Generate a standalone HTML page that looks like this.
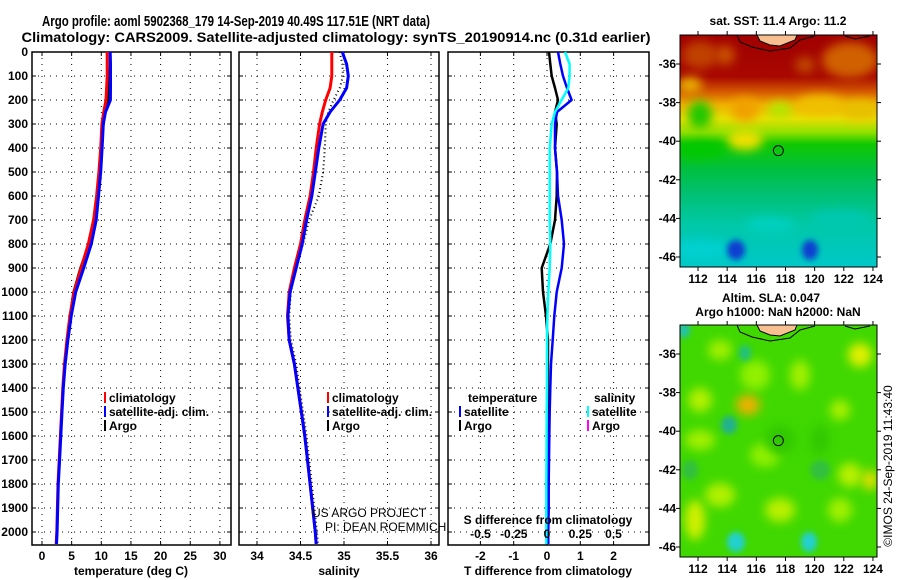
<!DOCTYPE html>
<html><head><meta charset="utf-8"><style>
body{margin:0;background:#fff;width:900px;height:580px;overflow:hidden}
svg{display:block;font-family:"Liberation Sans",Arial,sans-serif}
.b{font-weight:bold;font-size:12px}
</style></head><body>
<svg id="root" width="900" height="580" viewBox="0 0 900 580">
<defs>
<linearGradient id="sstg" x1="0" y1="0" x2="0" y2="1">
<stop offset="0" stop-color="#a00000"/><stop offset="0.18" stop-color="#a80800"/>
<stop offset="0.25" stop-color="#d86000"/><stop offset="0.3" stop-color="#f0b000"/>
<stop offset="0.36" stop-color="#e8e000"/><stop offset="0.42" stop-color="#90e000"/><stop offset="0.47" stop-color="#10c800"/>
<stop offset="0.58" stop-color="#00c040"/><stop offset="0.68" stop-color="#00c070"/>
<stop offset="0.82" stop-color="#00c8a8"/><stop offset="1" stop-color="#00c8c8"/>
</linearGradient>
<filter id="bl" x="-50%" y="-50%" width="200%" height="200%"><feGaussianBlur stdDeviation="5"/></filter>
<filter id="bl2" x="-50%" y="-50%" width="200%" height="200%"><feGaussianBlur stdDeviation="3"/></filter>
<clipPath id="c1"><rect x="680" y="35" width="197" height="232"/></clipPath>
<clipPath id="c2"><rect x="680" y="325" width="197" height="232"/></clipPath>
</defs>
<text x="236" y="26" font-weight="bold" style="font-size:15px" text-anchor="middle" textLength="388" lengthAdjust="spacingAndGlyphs">Argo profile: aoml 5902368_179 14-Sep-2019 40.49S 117.51E (NRT data)</text>
<text x="336" y="42" font-weight="bold" style="font-size:14px" text-anchor="middle" textLength="629" lengthAdjust="spacingAndGlyphs">Climatology: CARS2009. Satellite-adjusted climatology: synTS_20190914.nc (0.31d earlier)</text>
<g id="plots"></g>
<g id="maps"></g>
</svg>
<script>
const depths=[0,50,100,150,200,250,300,400,500,600,700,800,900,1000,1100,1200,1300,1400,1500,1600,1700,1800,1900,2000,2050];
const tempClim=[11.0,11.0,11.0,10.9,10.8,10.4,10.1,9.9,9.6,9.2,8.7,7.8,6.6,5.4,4.7,4.2,3.8,3.5,3.3,3.1,2.9,2.7,2.6,2.5,2.4];
const tempSat=[11.5,11.55,11.55,11.55,11.54,10.7,10.34,10.14,9.9,9.53,9.14,8.31,7.04,5.69,4.92,4.37,3.92,3.6,3.38,3.17,2.96,2.75,2.65,2.54,2.44];
const tempArgo=[11.06,11.1,11.14,11.14,11.13,10.64,10.39,10.14,9.9,9.49,8.94,7.9,6.44,5.28,4.67,4.23,3.83,3.53,3.33,3.13,2.93,2.73,2.63,2.53,2.43];
const salClim=[34.86,34.86,34.86,34.84,34.79,34.75,34.72,34.68,34.65,34.61,34.55,34.5,34.43,34.37,34.35,34.37,34.43,34.47,34.51,34.55,34.58,34.61,34.64,34.67,34.68];
const salSat=[34.98,35.03,35.05,35.03,34.95,34.84,34.76,34.71,34.67,34.63,34.57,34.52,34.45,34.38,34.355,34.37,34.43,34.47,34.51,34.55,34.58,34.61,34.64,34.67,34.68];
const salArgo=[34.95,34.98,34.99,34.95,34.88,34.82,34.79,34.78,34.76,34.71,34.6,34.53,34.45,34.39,34.37,34.39,34.45,34.49,34.53,34.57,34.6,34.63,34.66,34.69,34.7];
const tDiffArgo=[0.06,0.1,0.14,0.24,0.33,0.24,0.29,0.24,0.3,0.29,0.24,0.1,-0.16,-0.12,-0.03,0.03,0.03,0.03,0.03,0.03,0.03,0.03,0.03,0.03,0.03];
const tDiffSat=[0.33,0.4,0.48,0.6,0.74,0.3,0.24,0.24,0.3,0.33,0.44,0.51,0.44,0.29,0.22,0.17,0.12,0.1,0.08,0.07,0.06,0.05,0.05,0.04,0.04];
const sDiffSat=[0.135,0.17,0.17,0.16,0.11,0.06,0.035,0.02,0.02,0.02,0.02,0.025,0.02,0.01,0.003,0,0,0,-0.002,-0.003,-0.004,-0.005,-0.005,-0.005,-0.005];
const depthTicks=[0,100,200,300,400,500,600,700,800,900,1000,1100,1200,1300,1400,1500,1600,1700,1800,1900,2000];
const tempTicks=[0,5,10,15,20,25,30];
const salTicks=[34,34.5,35,35.5,36];
const salTickLabels=["34","34.5","35","35.5","36"];
const tDiffTicks=[-2,-1,0,1,2];
const sDiffTicks=[-0.5,-0.25,0,0.25,0.5];
const sDiffTickLabels=["-0.5","-0.25","0","0.25","0.5"];
const lonTicks=[112,114,116,118,120,122,124];
const latTicks=[-36,-38,-40,-42,-44,-46];

const NS='http://www.w3.org/2000/svg';
const G=document.getElementById('plots');
function el(tag,attrs,parent,txt){const e=document.createElementNS(NS,tag);for(const k in attrs)e.setAttribute(k,attrs[k]);if(txt!==undefined)e.textContent=txt;(parent||G).appendChild(e);return e;}
const Y=d=>52+d*0.24;
const TOP=52,BOT=545;
const panels=[
 {l:32,r:231,x:v=>42+v*5.93,ticks:tempTicks,labels:tempTicks.map(String),name:'temperature'},
 {l:239,r:439,x:v=>257+(v-34)*87,ticks:salTicks,labels:salTickLabels,name:'salinity'},
 {l:448,r:649,x:v=>547+v*33.3,ticks:tDiffTicks,labels:tDiffTicks.map(String),name:'difference'}
];
const sx=v=>547+v*133;
panels.forEach((p,i)=>{
 const g=el('g',{});
 
 
 depthTicks.forEach(d=>{
  const l=el('line',{x1:p.l,x2:p.r,y1:Y(d),y2:Y(d),stroke:'#000','stroke-width':1,'stroke-dasharray':'1 5'},g);
  
  el('line',{x1:p.l,x2:p.l+4,y1:Y(d),y2:Y(d),stroke:'#000'},g);
  el('line',{x1:p.r-4,x2:p.r,y1:Y(d),y2:Y(d),stroke:'#000'},g);
 });
 p.ticks.forEach((t,j)=>{
  const x=p.x(t);
  const l=el('line',{x1:x,x2:x,y1:TOP,y2:BOT,stroke:'#000','stroke-width':1,'stroke-dasharray':'1 5'},g);
  
  el('line',{x1:x,x2:x,y1:TOP,y2:TOP+4,stroke:'#000'},g);
  el('line',{x1:x,x2:x,y1:BOT-4,y2:BOT,stroke:'#000'},g);
  const t2=el('text',{x:x,y:560,'text-anchor':'middle',class:'b'},g,p.labels[j]);
  
 });
 const fr=el('rect',{x:p.l,y:TOP,width:p.r-p.l,height:BOT-TOP,fill:'none',stroke:'#000','stroke-width':1.5},g);
 
});
depthTicks.forEach(d=>{
 const t=el('text',{x:28,y:Y(d)+4,'text-anchor':'end',class:'b'},G,String(d));
 
});
function series(vals,xf,color,w,name,dash){
 const pts=vals.map((v,i)=>xf(v).toFixed(1)+','+Y(depths[i]).toFixed(1));
 const a={points:pts.join(' '),fill:'none',stroke:color,'stroke-width':w,'stroke-linejoin':'round'};
 if(dash)a['stroke-dasharray']=dash;
 const pl=el('polyline',a);
 
 
}
const P=panels;
series(tempArgo,P[0].x,'#000',2,'temp-argo-line');
series(tempClim,P[0].x,'#f00',3,'temp-climatology-line');
series(tempSat,P[0].x,'#00f',3,'temp-satellite-line');
series(salArgo,P[1].x,'#000',2,'sal-argo-line','1 3');
series(salClim,P[1].x,'#f00',3,'sal-climatology-line');
series(salSat,P[1].x,'#00f',3,'sal-satellite-line');
series(tDiffArgo,P[2].x,'#000',2.5,'tdiff-argo-line');
series(tDiffSat,P[2].x,'#00f',2.5,'tdiff-satellite-line');
series(sDiffSat,sx,'#0ff',2.5,'sdiff-satellite-line');
sDiffTicks.forEach((t,j)=>{
 const tx=el('text',{x:sx(t),y:538,'text-anchor':'middle',class:'b'},G,sDiffTickLabels[j]);
 
});
function legend(x,y,color,label,name){
 el('rect',{x:x,y:y-10,width:2,height:11,fill:color});
 const t=el('text',{x:x+5,y:y,class:'b'},G,label);
 
}
legend(104,402,'#f00','climatology','legend-climatology');
legend(104,416,'#00f','satellite-adj. clim.','legend-satellite');
legend(104,430,'#000','Argo','legend-argo');
legend(327,402,'#f00','climatology','legend-climatology-2');
legend(327,416,'#00f','satellite-adj. clim.','legend-satellite-2');
legend(327,430,'#000','Argo','legend-argo-2');
el('text',{x:468,y:402,class:'b'},G,'temperature');
legend(459,416,'#00f','satellite','legend-t-satellite');
legend(459,430,'#000','Argo','legend-t-argo');
el('text',{x:594,y:402,class:'b'},G,'salinity');
legend(587,416,'#0ff','satellite','legend-s-satellite');
legend(587,430,'#f0f','Argo','legend-s-argo');
const lab=[[131,575,'temperature (deg C)','x-axis-title-temperature'],[339,575,'salinity','x-axis-title-salinity'],[548,575,'T difference from climatology','x-axis-title-t-diff'],[548,524,'S difference from climatology','s-diff-title']];
lab.forEach(a=>{const t=el('text',{x:a[0],y:a[1],'text-anchor':'middle',class:'b'},G,a[2]);});
el('text',{x:312,y:517,'font-size':12},G,'US ARGO PROJECT');
el('text',{x:325,y:531,'font-size':12},G,'PI: DEAN ROEMMICH');

// maps
const M=document.getElementById('maps');
const mx=lon=>698+(lon-112)*14.58, my=lat=>64+(-36-lat)*19.3;
function mapFrame(dy,idx){
 const g=el('g',{},M);
 
 
 const cg=el('g',{'clip-path':'url(#c'+(idx+1)+')'},g);
 if(idx==0){
  el('rect',{x:680,y:35,width:197,height:232,fill:'url(#sstg)'},cg);
  [[700,55,'#c04000',18,14],[725,55,'#c85000',10,10],[850,60,'#d06000',28,18],[805,65,'#c04800',10,8],[690,85,'#e8b000',12,8],[745,110,'#f0a000',14,12],[700,115,'#20c800',12,14],[745,140,'#f0e000',18,10],[820,105,'#f0c000',25,10],[860,110,'#e8c000',20,10],[780,110,'#b0e800',12,8],[700,150,'#00c800',25,8],[700,250,'#00d0d0',30,10],[770,225,'#00d0c0',25,8],[840,220,'#00c8b0',30,10]].forEach(e=>el('ellipse',{cx:e[0],cy:e[1],rx:e[3],ry:e[4],fill:e[2],filter:'url(#bl)'},cg));
  [[736,250,'#1040d0',9,10],[810,250,'#1040d0',8,10]].forEach(e=>el('ellipse',{cx:e[0],cy:e[1],rx:e[3],ry:e[4],fill:e[2],filter:'url(#bl2)'},cg));
 } else {
  el('rect',{x:680,y:325,width:197,height:232,fill:'#40d800'},cg);
  [[720,350,'#a0f000',12,10],[860,355,'#e0f000',12,12],[755,375,'#90f000',15,15],[748,405,'#f0b000',12,10],[700,400,'#b0f000',12,12],[800,375,'#a0f000',10,15],[840,410,'#a8f000',10,10],[850,475,'#b8f000',12,12],[840,510,'#a0f000',12,12],[720,495,'#b0f000',15,12],[780,510,'#b8f000',15,12],[695,520,'#d0f000',10,20],[765,455,'#90f000',15,12],[870,480,'#e0e000',8,10],[780,440,'#30c800',15,15],[820,440,'#30c800',10,15],[700,440,'#a0f000',15,10]].forEach(e=>el('ellipse',{cx:e[0],cy:e[1],rx:e[3],ry:e[4],fill:e[2],filter:'url(#bl)'},cg));
  [[745,353,'#20c080',6,8],[729,425,'#20b090',8,9],[736,542,'#20d0d0',9,10],[809,542,'#20d0d0',8,10],[684,330,'#20c0b0',6,8],[820,470,'#30c040',10,10],[690,470,'#30c040',8,10]].forEach(e=>el('ellipse',{cx:e[0],cy:e[1],rx:e[3],ry:e[4],fill:e[2],filter:'url(#bl2)'},cg));
 }
 const land=el('path',{d:`M757 ${35+dy} L797 ${35+dy} L795 ${40+dy} L780 ${46+dy} L770 ${45+dy} L760 ${41+dy} Z`,fill:'#f8c090',stroke:'#000','stroke-width':1},cg);
 
 el('path',{d:`M737 ${35+dy} L740 ${42+dy} L752 ${47+dy} L770 ${51+dy} L790 ${48+dy} L800 ${40+dy} L815 ${36+dy} M845 ${36+dy} L855 ${39+dy} L870 ${36+dy}`,fill:'none',stroke:'#000','stroke-width':1},cg);
 const c=el('circle',{cx:mx(117.51),cy:my(-40.49)+dy,r:5,fill:'none',stroke:'#000','stroke-width':1},g);
 
 el('rect',{x:680,y:35+dy,width:197,height:232,fill:'none',stroke:'#000','stroke-width':1},g);
 lonTicks.forEach(l=>{
  el('line',{x1:mx(l),x2:mx(l),y1:35+dy,y2:31+dy,stroke:'#000'},g);
  el('line',{x1:mx(l),x2:mx(l),y1:267+dy,y2:271+dy,stroke:'#000'},g);
  const t=el('text',{x:mx(l),y:283+dy,'text-anchor':'middle',class:'b'},g,String(l));
  
 });
 latTicks.forEach(l=>{
  el('line',{x1:680,x2:676,y1:my(l)+dy,y2:my(l)+dy,stroke:'#000'},g);
  el('line',{x1:877,x2:881,y1:my(l)+dy,y2:my(l)+dy,stroke:'#000'},g);
  const t=el('text',{x:676,y:my(l)+dy+4,'text-anchor':'end',class:'b'},g,String(l));
  
 });
}
mapFrame(0,0);mapFrame(290,1);
function mt(x,y,s,n){const t=el('text',{x:x,y:y,'text-anchor':'middle',class:'b'},M,s);}
mt(778,25,'sat. SST: 11.4 Argo: 11.2','sst-map-title');
mt(771,302,'Altim. SLA: 0.047','sla-map-title');
mt(778,316,'Argo h1000: NaN h2000: NaN','argo-height-title');
const cr=el('text',{x:0,y:0,'font-size':12,'text-anchor':'middle',transform:'translate(892,466) rotate(-90)'},M,'©IMOS 24-Sep-2019 11:43:40');

</script>
</body></html>
